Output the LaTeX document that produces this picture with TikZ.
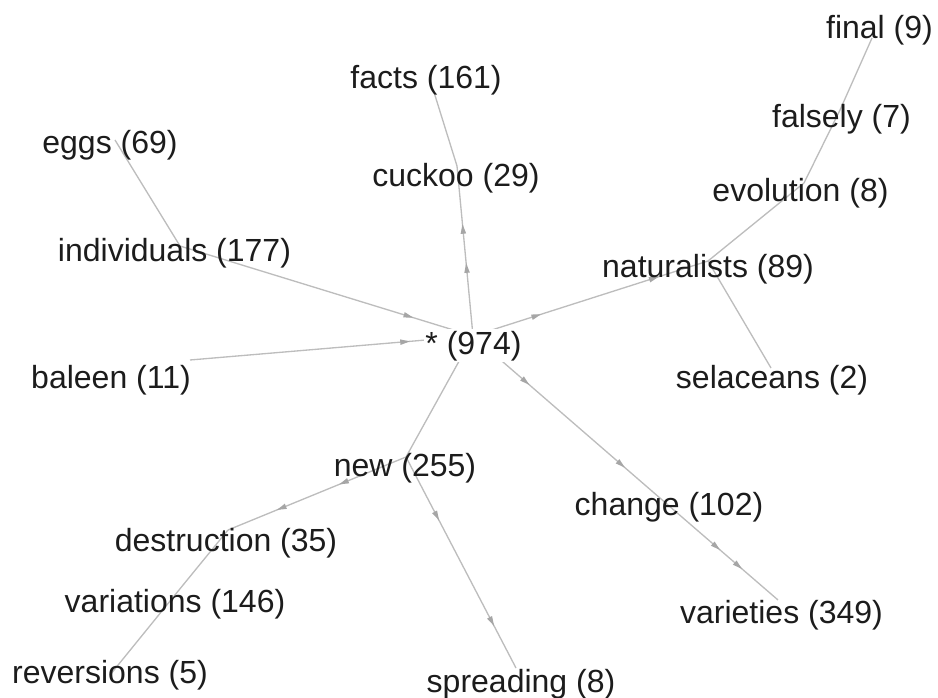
\documentclass[tikz,border=0pt]{standalone}
\usepackage{fontspec}
\setmainfont{Liberation Sans}
\usetikzlibrary{decorations.markings}

\definecolor{edgegray}{HTML}{BDBDBD}
\definecolor{tipgray}{HTML}{A6A6A6}
\definecolor{labelgray}{HTML}{1C1C1C}

\tikzset{
  edge/.style={draw=edgegray, line width=1pt},
  lbl/.style={anchor=base, inner sep=0pt, text=labelgray,
              font=\fontsize{24}{28}\selectfont},
  rootlbl/.style={lbl, fill=white, inner sep=1pt},
  tip/.style={postaction={decorate, decoration={markings,
      mark=at position #1 with {\fill[tipgray] (3.6pt,0pt) -- (-3.6pt,2.1pt) -- (-3.6pt,-2.1pt) -- cycle;}}}},
}

\begin{document}
\begin{tikzpicture}[x=0.75pt, y=-0.75pt]
\useasboundingbox (0,0) rectangle (938,698);

% graph vertices
\coordinate (vC)       at (473,336);
\coordinate (vFacts)   at (433,89);
\coordinate (vCuckoo)  at (457,166);
\coordinate (vEggs)    at (115,140);
\coordinate (vIndiv)   at (180,246);
\coordinate (vBaleen)  at (190,360);
\coordinate (vNat)     at (708,261);
\coordinate (vEvol)    at (804,183);
\coordinate (vFalsely) at (840,110);
\coordinate (vFinal)   at (872,38);
\coordinate (vSel)     at (771,368);
\coordinate (vNew)     at (406,457);
\coordinate (vDestr)   at (228,530);
\coordinate (vVar)     at (179,590);
\coordinate (vRev)     at (110,675);
\coordinate (vSpread)  at (516,668);
\coordinate (vChange)  at (668,505);
\coordinate (vVariet)  at (778,600);

% edges
\draw[edge] (vCuckoo) -- (vFacts);
\draw[edge, tip=0.40, tip=0.63] (vC) -- (vCuckoo);
\draw[edge] (vEggs) -- (vIndiv);
\draw[edge, tip=0.78] (vIndiv) -- (vC);
\draw[edge, tip=0.76] (vBaleen) -- (vC);
\draw[edge, tip=0.27, tip=0.77] (vC) -- (vNat);
\draw[edge] (vNat) -- (vEvol);
\draw[edge] (vEvol) -- (vFalsely);
\draw[edge] (vFalsely) -- (vFinal);
\draw[edge] (vNat) -- (vSel);
\draw[edge] (vC) -- (vNew);
\draw[edge, tip=0.35, tip=0.70] (vNew) -- (vDestr);
\draw[edge] (vDestr) -- (vVar);
\draw[edge] (vVar) -- (vRev);
\draw[edge, tip=0.28, tip=0.78] (vNew) -- (vSpread);
\draw[edge, tip=0.27, tip=0.76] (vC) -- (vChange);
\draw[edge, tip=0.44, tip=0.64] (vChange) -- (vVariet);

% labels
\node[rootlbl] (root)    at (473.5,354) {* (974)};
\node[lbl] (final)       at (879.5,39)  {final (9)};
\node[lbl] (facts)       at (426,89)    {facts (161)};
\node[lbl] (falsely)     at (841.5,128) {falsely (7)};
\node[lbl] (eggs)        at (110,154)   {eggs (69)};
\node[lbl] (cuckoo)      at (456,187)   {cuckoo (29)};
\node[lbl] (evolution)   at (800.5,202) {evolution (8)};
\node[lbl] (individuals) at (174.5,262) {individuals (177)};
\node[lbl] (naturalists) at (708,278)   {naturalists (89)};
\node[lbl] (baleen)      at (111,388)   {baleen (11)};
\node[lbl] (selaceans)   at (772,388)   {selaceans (2)};
\node[lbl] (new)         at (405,476)   {new (255)};
\node[lbl] (change)      at (669,515)   {change (102)};
\node[lbl] (destruction) at (226,551)   {destruction (35)};
\node[lbl] (variations)  at (175,612)   {variations (146)};
\node[lbl] (varieties)   at (781.5,623) {varieties (349)};
\node[lbl] (reversions)  at (110,683)   {reversions (5)};
\node[lbl] (spreading)   at (521,692)   {spreading (8)};
\end{tikzpicture}
\end{document}
